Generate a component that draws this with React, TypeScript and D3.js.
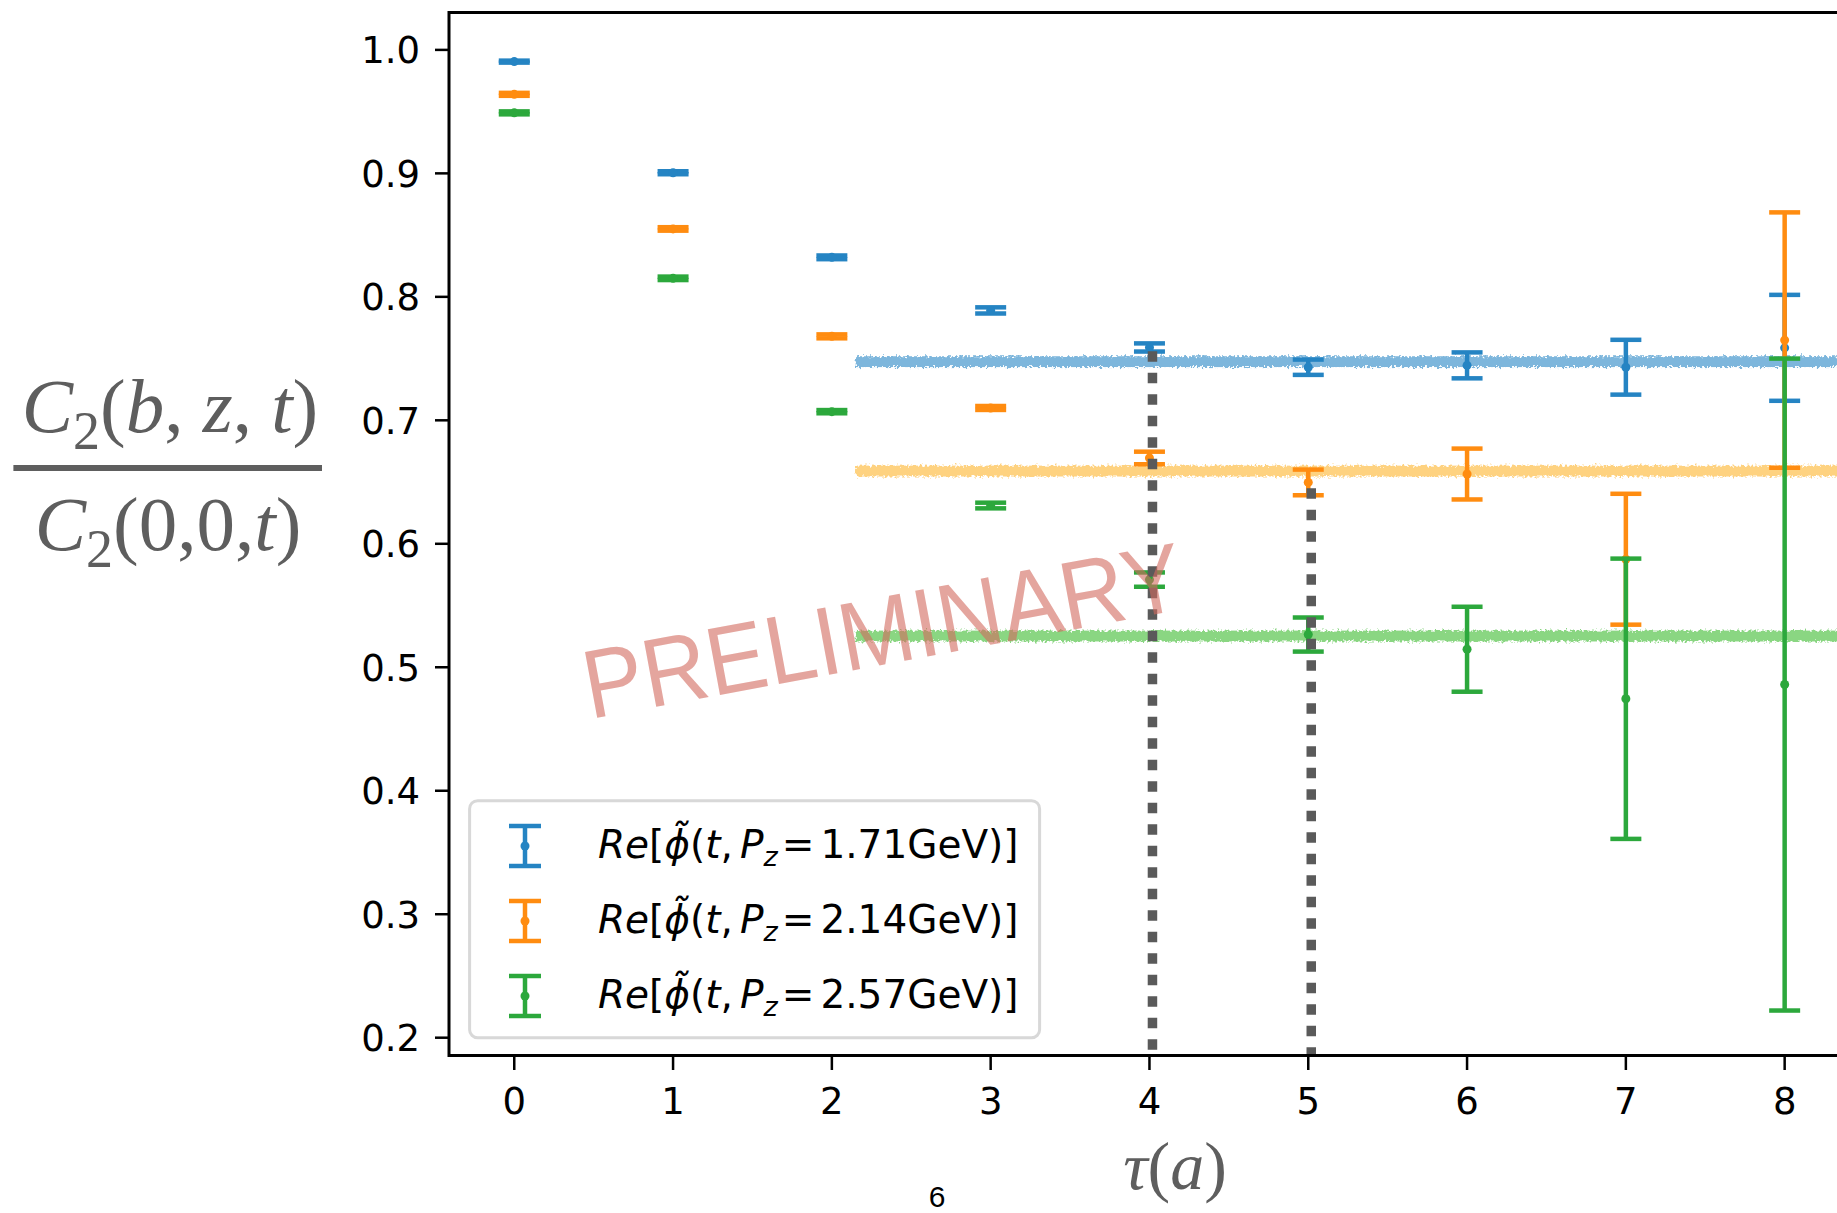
import React from "react";
import * as d3 from "d3";

// Euclidean time slices
const T = [0, 1, 2, 3, 4, 5, 6, 7, 8];

// Re[phi~(t, Pz)] for three momenta: central values and errors
const blueVal = [0.9905, 0.9005, 0.832, 0.789, 0.759, 0.743, 0.7445, 0.743, 0.7587];
const blueErr = [0.0008, 0.0012, 0.0015, 0.0025, 0.0033, 0.0062, 0.0105, 0.0222, 0.0429];
const orangeVal = [0.964, 0.855, 0.768, 0.71, 0.6695, 0.6497, 0.6565, 0.5875, 0.765];
const orangeErr = [0.0012, 0.0014, 0.0016, 0.0016, 0.0051, 0.0104, 0.0206, 0.053, 0.1034];
const greenVal = [0.949, 0.815, 0.707, 0.631, 0.571, 0.5265, 0.5146, 0.4745, 0.486];
const greenErr = [0.0012, 0.0014, 0.0013, 0.0023, 0.0058, 0.0138, 0.0344, 0.1135, 0.264];

// plateau fits (value, half-width) and their start
const fitVal = [0.7475, 0.6589, 0.5253];
const fitErr = [0.0044, 0.0044, 0.0044];
const fitStart = 2.15;

// vertical markers of the fit window
const windowT = [4, 5];
const windowTop = [0.756, 0.645];

const legendLabels = ["1.71GeV", "2.14GeV", "2.57GeV"];
const yTicks = [0.2, 0.3, 0.4, 0.5, 0.6, 0.7, 0.8, 0.9, 1.0];
const xTicks = [0, 1, 2, 3, 4, 5, 6, 7, 8];

const COLORS = ["#2584c3", "#ff8c10", "#2ca83c"];
const BAND_COLORS = ["#7db6dc", "#fed280", "#8ad682"];

const W = 1837;
const H = 1213;

export default function App() {
  const x = d3.scaleLinear().domain([-0.411, 8.63]).range([449, 1884.7]);
  const y = d3.scaleLinear().domain([0.1855, 1.0302]).range([1055.6, 12.6]);
  const fmt = d3.format(".1f");

  const series = [
    { val: blueVal, err: blueErr },
    { val: orangeVal, err: orangeErr },
    { val: greenVal, err: greenErr },
  ];
  const capHalf = 15.5;
  const lw = 4.5;

  const tickFont = { fontFamily: "DejaVu Sans", fontSize: 37, fill: "#000" };
  const serif = "Liberation Serif";
  const grey = "#5e5e5e";

  return (
    <svg
      width={W}
      height={H}
      style={{ position: "fixed", left: 0, top: 0, display: "block", background: "#fff" }}
    >
      <defs>
        <filter id="rough" x="-2%" y="-200%" width="104%" height="500%">
          <feTurbulence type="fractalNoise" baseFrequency="0.4" numOctaves="2" seed="7" result="n" />
          <feDisplacementMap in="SourceGraphic" in2="n" scale="7" xChannelSelector="R" yChannelSelector="G" />
        </filter>
        <clipPath id="plot">
          <rect x={449} y={12.6} width={1884.7 - 449} height={1055.6 - 12.6} />
        </clipPath>
      </defs>
      <rect width={W} height={H} fill="#fff" />

      {/* fit bands */}
      <g clipPath="url(#plot)">
        {fitVal.map((v, i) => (
          <rect
            key={"b" + i}
            x={x(fitStart)}
            y={y(v + fitErr[i])}
            width={x(8.63) - x(fitStart)}
            height={y(v - fitErr[i]) - y(v + fitErr[i])}
            fill={BAND_COLORS[i]}
            filter="url(#rough)"
          />
        ))}
      </g>

      {/* error bars */}
      {series.map((s, si) => (
        <g key={"s" + si} stroke={COLORS[si]} fill={COLORS[si]} strokeWidth={lw}>
          {T.map((t, i) => {
            const cx = x(t);
            const top = y(s.val[i] + s.err[i]);
            const bot = y(s.val[i] - s.err[i]);
            return (
              <g key={i}>
                <line x1={cx} x2={cx} y1={top} y2={bot} />
                <line x1={cx - capHalf} x2={cx + capHalf} y1={top} y2={top} />
                <line x1={cx - capHalf} x2={cx + capHalf} y1={bot} y2={bot} />
                <circle cx={cx} cy={y(s.val[i])} r={4.5} stroke="none" />
              </g>
            );
          })}
        </g>
      ))}

      {/* fit window markers */}
      {windowT.map((t, i) => (
        <line
          key={"w" + i}
          x1={x(t) + 3}
          x2={x(t) + 3}
          y1={y(windowTop[i])}
          y2={y(0.1855)}
          stroke="#5a5a5a"
          strokeWidth={9.5}
          strokeDasharray="10.5 11"
        />
      ))}

      {/* watermark */}
      <text
        transform="translate(590,719) rotate(-10.5)"
        fontFamily="Liberation Sans"
        fontSize={97}
        textLength={608}
        lengthAdjust="spacingAndGlyphs"
        fill="#d2695e"
        fillOpacity={0.6}
      >
        PRELIMINARY
      </text>

      {/* axes */}
      <line x1={449} x2={W} y1={12.6} y2={12.6} stroke="#000" strokeWidth={3} />
      <line x1={449} x2={W} y1={1055.6} y2={1055.6} stroke="#000" strokeWidth={3} />
      <line x1={449} x2={449} y1={11} y2={1057} stroke="#000" strokeWidth={3} />
      {yTicks.map((v) => (
        <g key={"yt" + v}>
          <line x1={435} x2={449} y1={y(v)} y2={y(v)} stroke="#000" strokeWidth={2.5} />
          <text x={420} y={y(v)} dy="0.36em" textAnchor="end" {...tickFont}>
            {fmt(v)}
          </text>
        </g>
      ))}
      {xTicks.map((t) => (
        <g key={"xt" + t}>
          <line x1={x(t)} x2={x(t)} y1={1055.6} y2={1070} stroke="#000" strokeWidth={2.5} />
          <text x={x(t)} y={1114} textAnchor="middle" {...tickFont}>
            {t}
          </text>
        </g>
      ))}

      {/* legend */}
      <rect
        x={469.6}
        y={800.7}
        width={570}
        height={237}
        rx={8}
        fill="#fff"
        fillOpacity={0.85}
        stroke="#d8d8d8"
        strokeWidth={3}
      />
      {legendLabels.map((lab, i) => {
        const cy = 846 + i * 75;
        const c = COLORS[i];
        return (
          <g key={"lg" + i}>
            <g stroke={c} strokeWidth={lw}>
              <line x1={525} x2={525} y1={cy - 20} y2={cy + 20} />
              <line x1={509} x2={541} y1={cy - 20} y2={cy - 20} />
              <line x1={509} x2={541} y1={cy + 20} y2={cy + 20} />
            </g>
            <circle cx={525} cy={cy} r={4.5} fill={c} />
            <text x={598} y={cy + 12} fontFamily="DejaVu Sans" fontSize={39} fill="#000">
              <tspan fontStyle="italic">Re</tspan>[<tspan fontStyle="italic">{"\u03D5\u0303"}</tspan>(
              <tspan fontStyle="italic">t</tspan>,
              <tspan fontStyle="italic" dx={7}>P</tspan>
              <tspan fontStyle="italic" fontSize={27} dy={8}>z</tspan>
              <tspan dy={-8} dx={4}>=</tspan>
              <tspan dx={6}>{lab})]</tspan>
            </text>
          </g>
        );
      })}

      {/* y-axis label: ratio of two-point functions */}
      <text x={170} y={432} textAnchor="middle" fontFamily={serif} fontSize={77} fill={grey}>
        <tspan fontStyle="italic">C</tspan>
        <tspan fontSize={54} dy={17}>2</tspan>
        <tspan dy={-17}>(</tspan>
        <tspan fontStyle="italic">b</tspan>, <tspan fontStyle="italic">z</tspan>,{" "}
        <tspan fontStyle="italic">t</tspan>)
      </text>
      <rect x={13.4} y={465} width={308.6} height={6} fill={grey} />
      <text x={168} y={550} textAnchor="middle" fontFamily={serif} fontSize={77} fill={grey}>
        <tspan fontStyle="italic">C</tspan>
        <tspan fontSize={54} dy={17}>2</tspan>
        <tspan dy={-17}>(0,0,</tspan>
        <tspan fontStyle="italic">t</tspan>)
      </text>

      {/* x-axis label */}
      <text x={1175} y={1189} textAnchor="middle" fontFamily={serif} fontSize={68} fill={grey}>
        <tspan fontStyle="italic">{"\u03C4"}</tspan>(<tspan fontStyle="italic">a</tspan>)
      </text>

      {/* page number */}
      <text x={937} y={1207} textAnchor="middle" fontFamily="Liberation Sans" fontSize={30} fill="#000">
        6
      </text>
    </svg>
  );
}
